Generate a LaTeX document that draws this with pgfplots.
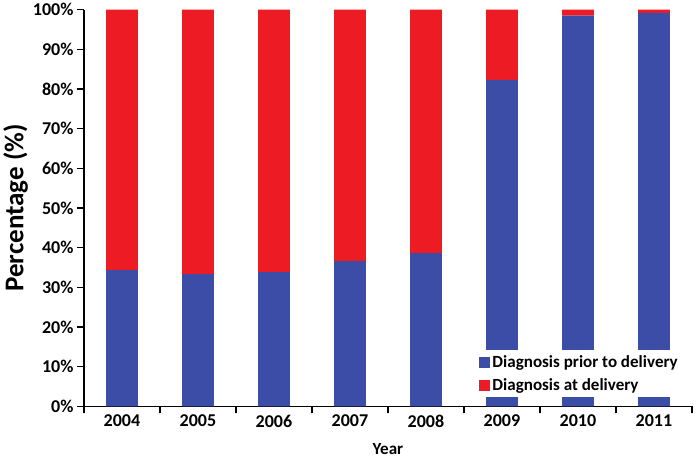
\documentclass[border=0pt]{standalone}
\usepackage{fontspec}
\setmainfont{Carlito}
\usepackage{pgfplots}
\pgfplotsset{compat=1.18}

\definecolor{prior}{RGB}{60,77,168}
\definecolor{atdel}{RGB}{237,28,36}

\begin{document}
\begin{tikzpicture}
    \begin{axis}[
        ybar stacked,
        scale only axis,
        width=607pt,
        height=396pt,
        bar width=0.42,
        xmin=-0.5, xmax=7.5,
        ymin=0, ymax=100,
        axis x line*=bottom,
        axis y line*=left,
        axis line style={black, line width=1.3pt},
        tick align=outside,
        tick style={black, line width=1.3pt},
        xtick={0,...,7},
        xticklabels={2004,2005,2006,2007,2008,2009,2010,2011},
        major x tick style={draw=none},
        minor xtick={-0.5,0.5,...,7.5},
        minor tick length=7pt,
        major tick length=7pt,
        ytick={0,10,...,100},
        yticklabels={0\%,10\%,20\%,30\%,40\%,50\%,60\%,70\%,80\%,90\%,100\%},
        ticklabel style={font=\fontsize{18}{18}\selectfont\bfseries},
        xticklabel style={yshift=2pt},
        xlabel={Year},
        ylabel={Percentage (\%)},
        xlabel style={font=\fontsize{17}{17}\selectfont\bfseries, yshift=-9pt},
        ylabel style={font=\fontsize{27}{27}\selectfont\bfseries, yshift=-2pt},
        legend style={
            at={(0.99,0.022)}, anchor=south east,
            draw=none, fill=white,
            font=\fontsize{17}{17}\selectfont\bfseries,
            row sep=6pt,
            inner xsep=6pt, inner ysep=3pt
        },
        legend cell align=left,
        legend image code/.code={\fill[#1] (0pt,-5.5pt) rectangle (11pt,5.5pt);},
    ]
        \addplot[fill=prior, draw=none] coordinates {
            (0,34.3) (1,33.3) (2,33.8) (3,36.6) (4,38.6) (5,82.3) (6,98.5) (7,99.2)};
        \addplot[fill=atdel, draw=none] coordinates {
            (0,65.7) (1,66.7) (2,66.2) (3,63.4) (4,61.4) (5,17.7) (6,1.5) (7,0.8)};
        \legend{Diagnosis prior to delivery, Diagnosis at delivery}
    \end{axis}
    \path ([xshift=8pt]current axis.east);
\end{tikzpicture}
\end{document}
